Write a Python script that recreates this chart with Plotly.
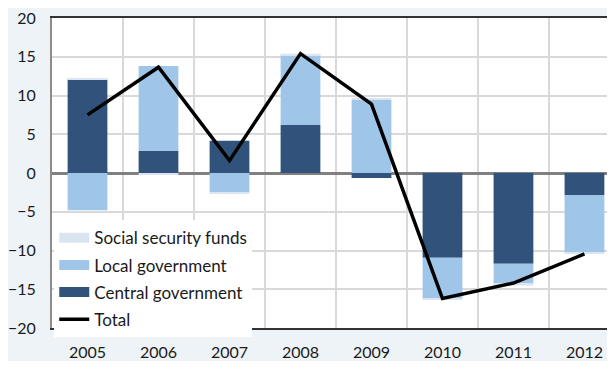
import plotly.graph_objects as go

years = ["2005", "2006", "2007", "2008", "2009", "2010", "2011", "2012"]
central = [12.1, 2.85, 4.15, 6.2, -0.65, -10.95, -11.7, -2.85]
local = [-4.8, 10.95, -2.5, 9.0, 9.45, -5.25, -2.6, -7.45]
social = [0.15, -0.15, -0.1, 0.2, 0.2, -0.1, -0.2, -0.1]
total = [7.5, 13.65, 1.6, 15.4, 8.9, -16.2, -14.2, -10.45]

C_CENTRAL = "#31527b"
C_LOCAL = "#9fc6e8"
C_SOCIAL = "#dbe5f1"
FONT = "Lato"

fig = go.Figure()
fig.add_trace(go.Bar(x=years, y=central, marker=dict(color=C_CENTRAL, line=dict(width=0)),
                     width=0.56, showlegend=False, name="Central government"))
fig.add_trace(go.Bar(x=years, y=local, marker=dict(color=C_LOCAL, line=dict(width=0)),
                     width=0.56, showlegend=False, name="Local government"))
fig.add_trace(go.Bar(x=years, y=social, marker=dict(color=C_SOCIAL, line=dict(width=0)),
                     width=0.56, showlegend=False, name="Social security funds"))
fig.add_trace(go.Scatter(x=years, y=total, mode="lines", line=dict(color="black", width=3.5),
                         showlegend=False, name="Total"))

# legend entries
for nm, col, w in [("Social security funds", C_SOCIAL, 11), ("Local government", C_LOCAL, 11),
                   ("Central government", C_CENTRAL, 11), ("Total", "black", 3.5)]:
    fig.add_trace(go.Scatter(x=[None], y=[None], mode="lines", name=nm,
                             line=dict(color=col, width=w), legendgroup=nm))

fig.update_layout(
    width=607, height=353,
    margin=dict(l=43, r=0, t=9, b=21),
    paper_bgcolor="#eef3f8",
    plot_bgcolor="white",
    barmode="relative",
    font=dict(family=FONT, size=16, color="#1a1a1a"),
    legend=dict(x=0.004, y=-0.03, xanchor="left", yanchor="bottom",
                bgcolor="white", borderwidth=0, traceorder="grouped",
                tracegroupgap=2, font=dict(size=17)),
    annotations=[dict(text="(growth rate, contributions to growth in percentage points)",
                      xref="paper", yref="paper", x=-0.078, y=1.0245,
                      xanchor="left", yanchor="bottom", showarrow=False,
                      font=dict(size=16, family=FONT, color="#1a1a1a", style="italic"))],
)
fig.update_xaxes(type="category", range=[-0.5, 7.43], tickson="boundaries",
                 showgrid=True, gridcolor="#d9d9d9", gridwidth=1.5,
                 showline=True, linecolor="#333333", linewidth=2, mirror=True,
                 ticks="", ticklabelstandoff=9, fixedrange=True)
fig.update_yaxes(range=[-20, 20], dtick=5, showgrid=True, gridcolor="#d9d9d9", gridwidth=1.5,
                 zeroline=True, zerolinecolor="#808080", zerolinewidth=2.5,
                 showline=True, linecolor="#8c8c8c", linewidth=2,
                 ticks="", ticklabelstandoff=11, ticklabeloverflow="allow")

fig.write_html("out.html")
